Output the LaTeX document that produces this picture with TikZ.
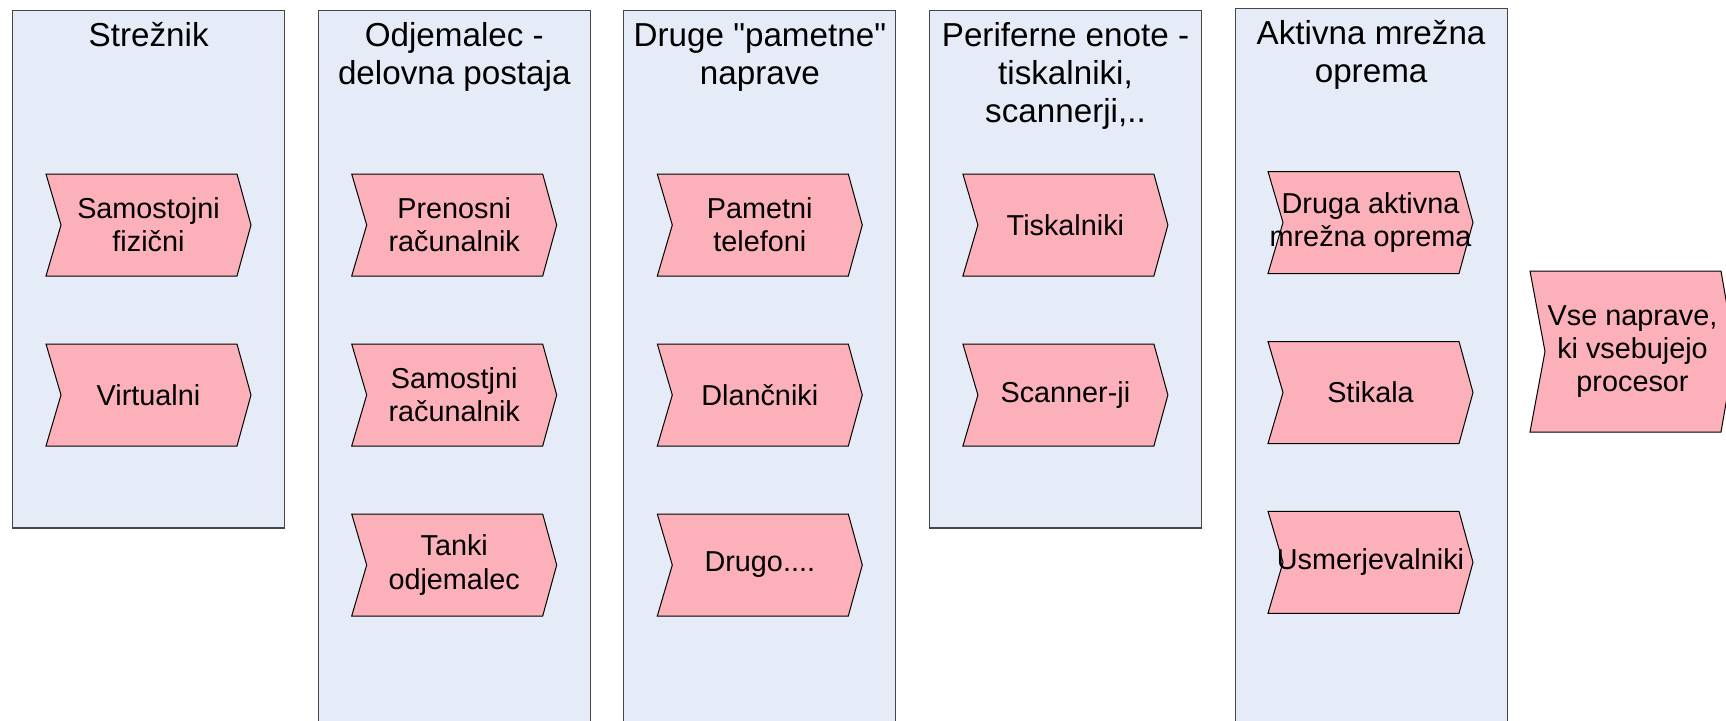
\documentclass[tikz,border=0pt]{standalone}
\usepackage{fontspec}
% straight quotes stay straight
\setmainfont{Liberation Sans}[Ligatures=TeXOff]

\definecolor{laneblue}{RGB}{230,236,247}
\definecolor{chevpink}{RGB}{251,176,186}
\definecolor{laneedge}{RGB}{70,70,70}

\tikzset{
  lane/.style={draw=laneedge, fill=laneblue, line width=0.55pt},
  % anchored at the baseline of the last line
  lanetitle/.style={font=\fontsize{16.6}{19.1}\selectfont, align=center, inner sep=0pt, anchor=base},
  chevshape/.style={draw=black, fill=chevpink, line width=0.5pt, line join=miter},
  chevtext/.style={font=\fontsize{14.4}{16.6}\selectfont, align=center, inner sep=0pt},
}

% \chevbox{name}{centre x}{centre y}{half height}{text}
\newcommand\chevbox[5]{%
  \draw[chevshape] (#2-102.5,#3-#4) -- (#2+88.5,#3-#4) -- (#2+102.5,#3)
    -- (#2+88.5,#3+#4) -- (#2-102.5,#3+#4) -- (#2-87.5,#3) -- cycle;
  \node[chevtext] (#1) at (#2,#3) {#5};
}

\begin{document}
\begin{tikzpicture}[x=0.5pt, y=-0.5pt]
  \useasboundingbox (0,0) rectangle (1726,720);
  \clip (0,0) rectangle (1726,720);

  % lanes
  \draw[lane] (12.7,10.5) rectangle (284.7,528);
  \draw[lane] (318.3,10.5) rectangle (590.3,740);
  \draw[lane] (623.9,10.5) rectangle (895.9,740);
  \draw[lane] (929.5,10.5) rectangle (1201.5,528);
  \draw[lane] (1235.1,8.5) rectangle (1507.1,740);

  % lane titles (y = baseline of the last line, 38.2 per line)
  \node[lanetitle] (t1) at (148.7,46.5) {Strežnik};
  \node[lanetitle] (t2) at (454.3,84.7) {Odjemalec -\\delovna postaja};
  \node[lanetitle] (t3) at (759.9,84.7) {Druge "pametne"\\naprave};
  \node[lanetitle] (t4) at (1065.5,122.9) {Periferne enote -\\tiskalniki,\\scannerji,..};
  \node[lanetitle] (t5) at (1371.1,82.7) {Aktivna mrežna\\oprema};

  % server
  \chevbox{s1}{148.5}{225}{51}{Samostojni\\fizični}
  \chevbox{s2}{148.5}{395}{51}{Virtualni}

  % client
  \chevbox{c1}{454.2}{225}{51}{Prenosni\\računalnik}
  \chevbox{c2}{454.2}{395}{51}{Samostjni\\računalnik}
  \chevbox{c3}{454.2}{565}{51}{Tanki\\odjemalec}

  % smart devices
  \chevbox{p1}{759.8}{225}{51}{Pametni\\telefoni}
  \chevbox{p2}{759.8}{395}{51}{Dlančniki}
  \chevbox{p3}{759.8}{565}{51}{Drugo....}

  % peripherals
  \chevbox{e1}{1065.4}{225}{51}{Tiskalniki}
  \chevbox{e2}{1065.4}{395}{51}{Scanner-ji}

  % network equipment
  \chevbox{n1}{1370.5}{222.5}{51}{Druga aktivna\\mrežna oprema}
  \chevbox{n2}{1370.5}{392.5}{51}{Stikala}
  \chevbox{n3}{1370.5}{562.3}{51}{Usmerjevalniki}

  % everything with a processor
  \chevbox{all}{1632.5}{351.5}{80.5}{Vse naprave,\\ki vsebujejo\\procesor}
\end{tikzpicture}
\end{document}
